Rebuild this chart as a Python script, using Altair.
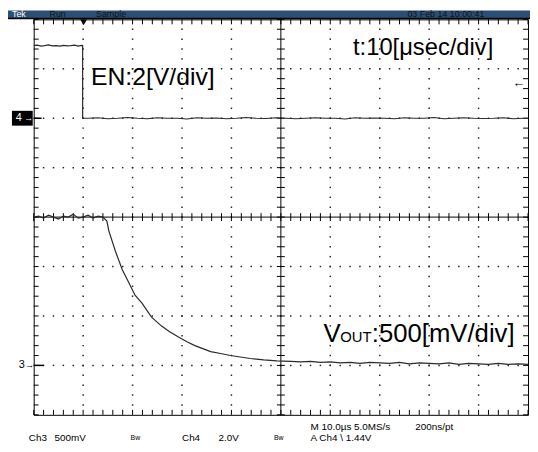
import altair as alt
import pandas as pd

# ---------------- data ----------------
# time axis: 10 us/div, 10 divisions; vertical: 8 divisions
DIV_T = [0, 10, 20, 30, 40, 50, 60, 70, 80, 90, 100]
DIV_Y = [-4, -3, -2, -1, 0, 1, 2, 3, 4]

# EN (Ch4, 2 V/div, ground marker at +2 div)
EN_T = [0, 0.7, 1.5, 2.2, 3, 3.8, 4.5, 5.3, 6, 6.8, 7.5, 8.3, 9, 9.6, 9.9, 9.9,
        11, 13, 15, 17, 19, 21, 23, 25, 27, 29, 31, 33, 35, 37, 39, 41, 43, 45,
        47, 49, 51, 53, 55, 57, 59, 61, 63, 65, 67, 69, 71, 73, 75, 77, 79, 81,
        83, 85, 87, 89, 91, 93, 95, 97, 99, 100]
EN_V = [2.94, 2.96, 2.92, 2.94, 2.97, 2.93, 2.94, 2.92, 2.95, 2.93, 2.94, 2.96,
        2.92, 2.95, 2.94, 0.0,
        0.0, 0.02, -0.02, 0.0, 0.03, 0.0, -0.02, 0.02, 0.0, 0.0, -0.03, 0.02,
        0.0, 0.01, -0.02, 0.0, 0.03, 0.0, -0.01, 0.02, 0.0, -0.02, 0.0, 0.02,
        0.0, 0.0, -0.03, 0.02, 0.0, 0.01, 0.0, -0.02, 0.02, 0.0, 0.0, 0.03,
        -0.02, 0.0, 0.02, 0.0, -0.01, 0.0, 0.02, -0.02, 0.0, 0.0]

# VOUT (Ch3, 500 mV/div, ground marker at -3 div)
VOUT_T = [0, 1, 2, 3, 4, 5, 6, 7, 8, 9, 10, 11, 12, 13, 14,
          14.8, 15.2, 16.5, 17.9, 19.2, 20.5, 21.9, 23.8, 25.8, 27.5, 29.2,
          31, 32.6, 34.2, 35.8, 37.8, 39.8, 41.8, 43.8, 46.5, 49.2,
          52, 54, 56, 58, 60, 62, 64, 66, 68, 70, 72, 74, 76, 78, 80, 82, 84,
          86, 88, 90, 92, 94, 96, 98, 100]
VOUT_V = [1.50, 1.51, 1.49, 1.52, 1.50, 1.48, 1.51, 1.50, 1.53, 1.49, 1.50,
          1.52, 1.49, 1.51, 1.50,
          1.46, 1.36, 1.16, 0.97, 0.84, 0.71, 0.63, 0.49, 0.40, 0.34, 0.29,
          0.24, 0.20, 0.17, 0.14, 0.12, 0.10, 0.085, 0.07, 0.055, 0.045,
          0.04, 0.035, 0.04, 0.03, 0.035, 0.025, 0.03, 0.02, 0.03, 0.025, 0.02,
          0.03, 0.015, 0.025, 0.02, 0.015, 0.025, 0.01, 0.02, 0.015, 0.01,
          0.02, 0.01, 0.015, 0.01]

EN_VDIV = 2.0       # V per division
EN_GND = 2          # division of Ch4 ground marker
VOUT_VDIV = 0.5
VOUT_GND = -3
TRIG_T = 10.1
TRIG_LEVEL = 1.44

# ---------------- derived tables ----------------
minor_t = [DIV_T[0] + 2 * i for i in range(51)]
minor_y = [round(-4 + 0.2 * i, 1) for i in range(41)]

dots = []
for t in DIV_T[1:-1]:
    if t == 50:
        continue
    for y in minor_y[1:-1]:
        dots.append({"t": t, "y": y})
for y in DIV_Y[1:-1]:
    if y == 0:
        continue
    for t in minor_t[1:-1]:
        dots.append({"t": t, "y": y})
dots_df = pd.DataFrame(dots)
tdf = pd.DataFrame({"t": minor_t})
ydf = pd.DataFrame({"y": minor_y})

en_df = pd.DataFrame({"t": EN_T, "y": [EN_GND + v / EN_VDIV for v in EN_V],
                      "i": range(len(EN_T))})
vo_df = pd.DataFrame({"t": VOUT_T, "y": [VOUT_GND + v / VOUT_VDIV for v in VOUT_V],
                      "i": range(len(VOUT_T))})
dummy = pd.DataFrame({"a": [0]})

W, H = 500, 400
xs = alt.Scale(domain=[DIV_T[0], DIV_T[-1]], nice=False, zero=False)
ys = alt.Scale(domain=[DIV_Y[0], DIV_Y[-1]], nice=False, zero=False)
X = lambda f="t:Q": alt.X(f, scale=xs, axis=None)
Y = lambda f="y:Q": alt.Y(f, scale=ys, axis=None)
FONT = "Liberation Sans"


def txt(s, x, y, size=10, color="black", align="left", baseline="middle", ydatum=False):
    yy = alt.Y(datum=y, scale=ys, axis=None) if ydatum else alt.value(y)
    return alt.Chart(dummy).mark_text(
        text=s, fontSize=size, color=color, align=align, baseline=baseline, font=FONT
    ).encode(x=alt.value(x), y=yy)


layers = []

# grid dots
layers.append(alt.Chart(dots_df).mark_square(size=2.2, color="#222", opacity=1)
              .encode(x=X(), y=Y()))

# border and centre ticks
tk = dict(color="black", strokeWidth=1)
layers.append(alt.Chart(tdf).mark_rule(**tk).encode(x=X(), y=alt.value(0), y2=alt.value(5)))
layers.append(alt.Chart(tdf).mark_rule(**tk).encode(x=X(), y=alt.value(H - 5), y2=alt.value(H)))
layers.append(alt.Chart(tdf).mark_rule(**tk).encode(x=X(), y=alt.value(H / 2 - 4), y2=alt.value(H / 2 + 4)))
layers.append(alt.Chart(ydf).mark_rule(**tk).encode(y=Y(), x=alt.value(0), x2=alt.value(5)))
layers.append(alt.Chart(ydf).mark_rule(**tk).encode(y=Y(), x=alt.value(W - 5), x2=alt.value(W)))
layers.append(alt.Chart(ydf).mark_rule(**tk).encode(y=Y(), x=alt.value(W / 2 - 4), x2=alt.value(W / 2 + 4)))

# centre crosshair
layers.append(alt.Chart(dummy).mark_rule(**tk).encode(x=alt.X(datum=50, scale=xs, axis=None)))
layers.append(alt.Chart(dummy).mark_rule(**tk).encode(y=alt.Y(datum=0, scale=ys, axis=None)))

# traces
layers.append(alt.Chart(en_df).mark_line(color="#2a2a2a", strokeWidth=1.2)
              .encode(x=X(), y=Y(), order="i:Q"))
layers.append(alt.Chart(vo_df).mark_line(color="#2a2a2a", strokeWidth=1.2)
              .encode(x=X(), y=Y(), order="i:Q"))

# header bar
layers.append(alt.Chart(dummy).mark_rect(color="#2c4f77")
              .encode(x=alt.value(-26), x2=alt.value(502), y=alt.value(-9), y2=alt.value(-1.5)))
layers.append(alt.Chart(dummy).mark_rule(color="black", strokeWidth=1.5)
              .encode(x=alt.value(-26), x2=alt.value(502), y=alt.value(-0.8)))
layers.append(txt("Tek", -22, -2.2, size=9, color="white", baseline="alphabetic"))
layers.append(txt("Run", 16, -2.2, size=9, color="#111", baseline="alphabetic"))
layers.append(txt("Sample", 63, -2.2, size=9, color="#111", baseline="alphabetic"))
layers.append(txt("03 Feb 14 10:00:41", 378, -2.2, size=9, color="#111", baseline="alphabetic"))

# trigger position marker
layers.append(alt.Chart(dummy).mark_point(shape="triangle-down", filled=True, color="black",
                                          size=45, opacity=1)
              .encode(x=alt.X(datum=TRIG_T, scale=xs, axis=None), y=alt.value(3)))
# trigger level arrow
layers.append(txt("\u2190", 491, EN_GND + TRIG_LEVEL / EN_VDIV, size=13, align="center", ydatum=True))

# channel ground markers
layers.append(alt.Chart(dummy).mark_rect(color="black").encode(
    x=alt.value(-22), x2=alt.value(-1),
    y=alt.Y(datum=EN_GND + 0.15, scale=ys, axis=None), y2=alt.Y2(datum=EN_GND - 0.15)))
layers.append(txt("4", -15, EN_GND, size=11, color="white", align="center", ydatum=True))
layers.append(txt("\u2192", -5, EN_GND, size=9, color="white", align="center", ydatum=True))
layers.append(alt.Chart(dummy).mark_rule(color="black", strokeWidth=1.5).encode(
    x=alt.value(0), x2=alt.value(8), y=alt.Y(datum=EN_GND, scale=ys, axis=None)))
layers.append(txt("3", -12, VOUT_GND, size=11, align="center", ydatum=True))
layers.append(txt("\u2192", -4, VOUT_GND, size=9, align="center", ydatum=True))
layers.append(alt.Chart(dummy).mark_rule(color="black", strokeWidth=1.5).encode(
    x=alt.value(0), x2=alt.value(10), y=alt.Y(datum=VOUT_GND, scale=ys, axis=None)))

# annotations
layers.append(txt("t:10[\u03bcsec/div]", 323, 36, size=24, baseline="alphabetic"))
layers.append(txt("EN:2[V/div]", 58, 66, size=25, baseline="alphabetic"))
layers.append(txt("V", 293, 326, size=26, baseline="alphabetic"))
layers.append(txt("OUT", 310, 326, size=15, baseline="alphabetic"))
layers.append(txt(":500[mV/div]", 342, 326, size=26, baseline="alphabetic"))

# bottom readouts
layers.append(txt("M 10.0\u00b5s 5.0MS/s", 280, 412, size=10))
layers.append(txt("200ns/pt", 386, 412, size=10))
layers.append(txt("Ch3", -5, 423.5, size=10))
layers.append(txt("500mV", 21, 423.5, size=10))
layers.append(txt("Bw", 98, 423, size=7))
layers.append(txt("Ch4", 150, 423.5, size=10))
layers.append(txt("2.0V", 187, 423.5, size=10))
layers.append(txt("Bw", 243, 423, size=7))
layers.append(txt("A  Ch4  \\  1.44V", 280, 423.5, size=10))

chart = alt.layer(*layers).properties(
    width=W, height=H,
    padding={"left": 26, "top": 9, "right": 2, "bottom": 27},
    autosize=alt.AutoSizeParams(type="none"),
    background="white",
).configure_view(stroke="black", strokeWidth=1)

chart.save("out.html", embed_options={"renderer": "svg", "actions": False})
